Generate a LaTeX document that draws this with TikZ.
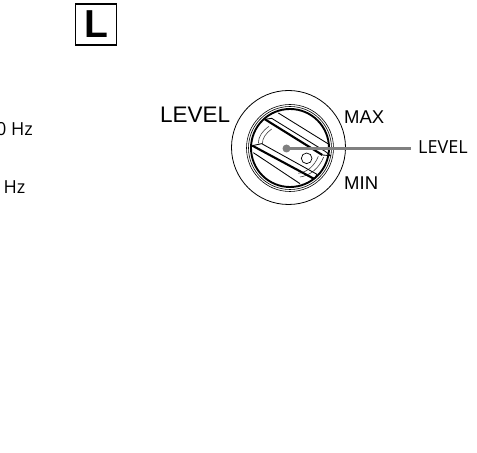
\documentclass[tikz,border=0pt]{standalone}
\usepackage{fontspec}
\setmainfont{Liberation Sans}
\newfontfamily\opensans{Open Sans}
\tikzset{
  px/.style={x=1bp,y=-1bp},
  bigtext/.style={inner sep=0pt,font=\fontsize{22.5bp}{24bp}\selectfont},
  dialtext/.style={inner sep=0pt,font=\fontsize{18.5bp}{20bp}\selectfont},
  smalltext/.style={inner sep=0pt,font=\opensans\fontsize{18bp}{20bp}\selectfont,text=black},
  leader/.style={draw=black!50,line width=3bp},
  ringline/.style={draw=black,line width=0.6bp},
  gripthick/.style={draw=black,line width=2.1bp},
  gripthin/.style={draw=black,line width=0.85bp},
  archair/.style={draw=black!75,line width=0.6bp}
}
\begin{document}
\begin{tikzpicture}[px]
\useasboundingbox (0,0) rectangle (477,453);
% tag
\node[draw=black,line width=1.4bp,minimum width=41bp,minimum height=41bp,inner sep=0pt,anchor=center] (tag) at (96,24.5) {};
\node[inner sep=0pt,font=\bfseries\fontsize{39bp}{42bp}\selectfont] (tagL) at (96.5,24.5) {L};
% clipped texts
\node[smalltext,anchor=base east] (hza) at (33,136) {0 Hz};
\node[smalltext,anchor=base east] (hzb) at (25.5,194) {Hz};
% dial
\draw[black,line width=0.8bp] (288.5,147.5) circle (57);
\draw[ringline] (290,148) circle (43.5);
\draw[ringline] (290,148) circle (41.5);
\draw[draw=black,line width=1.9bp] (290,148) circle (39);
\begin{scope}[shift={(245,105)},x=0.3333bp,y=-0.3333bp]
% inner arcs
\draw[archair] (40,115) .. controls (40,95) and (52,78) .. (72,64);
\draw[archair] (52,117) .. controls (52,100) and (62,85) .. (80,72);
\draw[archair] (165,216) .. controls (195,212) and (222,190) .. (236,156);
\draw[archair] (160,205) .. controls (185,202) and (208,184) .. (220,154);
\draw[gripthin,line width=0.7bp] (185,160) circle (16);
% upper grip
\draw[gripthick] (60,43) -- (232,150);
\draw[gripthin] (60,43) -- (80,40) -- (242,140);
\draw[gripthin] (232,150) -- (256,152) -- (242,140);
\draw[gripthin] (100,24) -- (255,120);
% lower grip
\draw[gripthick] (22,122) -- (208,222);
\draw[gripthin] (22,122) -- (50,116) -- (216,208) -- (208,222);
\draw[gripthin] (25,143) -- (165,236);
\end{scope}
% leader
\node[circle,fill=black!50,minimum size=8bp,inner sep=0pt] (dot) at (286.5,148.5) {};
\coordinate (leadend) at (410.5,148.5);
\draw[leader] (dot.center) -- (leadend);
% labels
\node[bigtext,anchor=base west] (lvl) at (160,123) {LEVEL};
\node[dialtext,anchor=base west] (maxl) at (344,124) {MAX};
\node[dialtext,anchor=base west] (minl) at (344,190) {MIN};
\node[smalltext,anchor=base west] (lvr) at (418,154) {LEVEL};
\end{tikzpicture}
\end{document}
